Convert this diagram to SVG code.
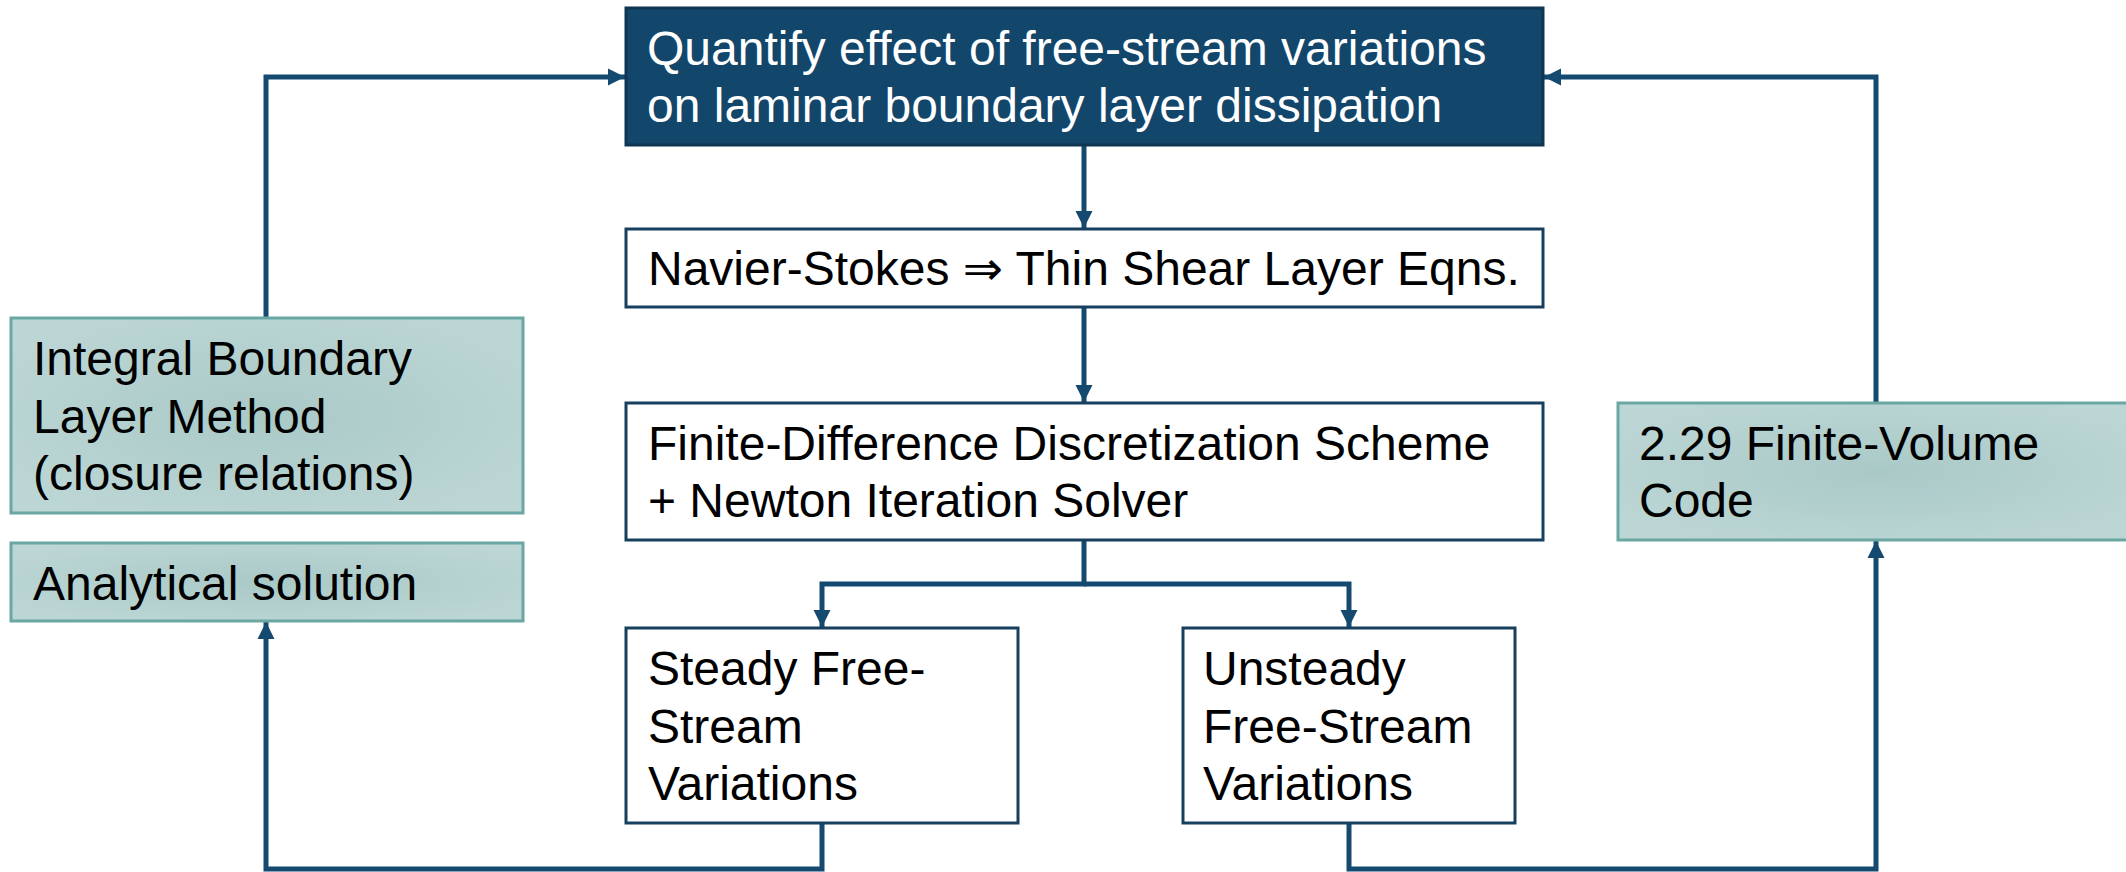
<svg xmlns="http://www.w3.org/2000/svg" width="2126" height="872" viewBox="0 0 2126 872">
  <style>
    .lbl { font-family: "Liberation Sans", Arial, "DejaVu Sans", sans-serif; font-size: 48px; fill: #000; }
    .lbl-w { fill: #ffffff; }
    .plain { fill: #ffffff; stroke: #173f5e; stroke-width: 3; }
    .head { fill: #13466b; stroke: #0e3552; stroke-width: 3; }
    .teal { fill: url(#tealFill); stroke: #6aa7a3; stroke-width: 3; }
    .conn { fill: none; stroke: #154a70; stroke-width: 5; stroke-linejoin: miter; }
  </style>
  <defs>
    <radialGradient id="tealFill" cx="0.5" cy="0.5" r="0.6">
      <stop offset="0" stop-color="#a9c9c7"/>
      <stop offset="1" stop-color="#bcd6d5"/>
    </radialGradient>
    <marker id="arrow" markerUnits="userSpaceOnUse" markerWidth="18" markerHeight="18" viewBox="0 0 18 18" refX="17" refY="9" orient="auto">
      <path d="M0,0.5 L17,9 L0,17.5 z" fill="#154a70"/>
    </marker>
  </defs>

  <rect width="2126" height="872" fill="#ffffff"/>

  <!-- connectors -->
  <g id="connectors">
    <path class="conn" d="M1084,145 L1084,228" marker-end="url(#arrow)"/>
    <path class="conn" d="M1084,307 L1084,402" marker-end="url(#arrow)"/>
    <path class="conn" d="M1084,540 L1084,584 L822,584 L822,627" marker-end="url(#arrow)"/>
    <path class="conn" d="M1084,584 L1349,584 L1349,627" marker-end="url(#arrow)"/>
    <path class="conn" d="M822,823 L822,869 L266,869 L266,622" marker-end="url(#arrow)"/>
    <path class="conn" d="M1349,823 L1349,869 L1876,869 L1876,541" marker-end="url(#arrow)"/>
    <path class="conn" d="M266,318 L266,77 L625,77" marker-end="url(#arrow)"/>
    <path class="conn" d="M1876,403 L1876,77 L1544,77" marker-end="url(#arrow)"/>
  </g>

  <!-- goal -->
  <g id="goal">
    <rect class="head" x="626" y="8" width="917" height="137"/>
    <text class="lbl lbl-w" x="647" y="65">Quantify effect of free-stream variations</text>
    <text class="lbl lbl-w" x="647" y="122">on laminar boundary layer dissipation</text>
  </g>

  <!-- governing equations -->
  <g id="equations">
    <rect class="plain" x="626" y="229" width="917" height="78"/>
    <text class="lbl" x="648" y="285">Navier-Stokes ⇒ Thin Shear Layer Eqns.</text>
  </g>

  <!-- numerical scheme -->
  <g id="scheme">
    <rect class="plain" x="626" y="403" width="917" height="137"/>
    <text class="lbl" x="648" y="460">Finite-Difference Discretization Scheme</text>
    <text class="lbl" x="648" y="517">+ Newton Iteration Solver</text>
  </g>

  <!-- steady case -->
  <g id="steady">
    <rect class="plain" x="626" y="628" width="392" height="195"/>
    <text class="lbl" x="648" y="685">Steady Free-</text>
    <text class="lbl" x="648" y="743">Stream</text>
    <text class="lbl" x="648" y="800">Variations</text>
  </g>

  <!-- unsteady case -->
  <g id="unsteady">
    <rect class="plain" x="1183" y="628" width="332" height="195"/>
    <text class="lbl" x="1203" y="685">Unsteady</text>
    <text class="lbl" x="1203" y="743">Free-Stream</text>
    <text class="lbl" x="1203" y="800">Variations</text>
  </g>

  <!-- integral method -->
  <g id="integral">
    <rect class="teal" x="11" y="318" width="512" height="195"/>
    <text class="lbl" x="33" y="375">Integral Boundary</text>
    <text class="lbl" x="33" y="433">Layer Method</text>
    <text class="lbl" x="33" y="490">(closure relations)</text>
  </g>

  <!-- analytical -->
  <g id="analytical">
    <rect class="teal" x="11" y="543" width="512" height="78"/>
    <text class="lbl" x="33" y="600">Analytical solution</text>
  </g>

  <!-- finite volume code -->
  <g id="finite-volume">
    <rect class="teal" x="1618" y="403" width="520" height="137"/>
    <text class="lbl" x="1639" y="460">2.29 Finite-Volume</text>
    <text class="lbl" x="1639" y="517">Code</text>
  </g>
</svg>
